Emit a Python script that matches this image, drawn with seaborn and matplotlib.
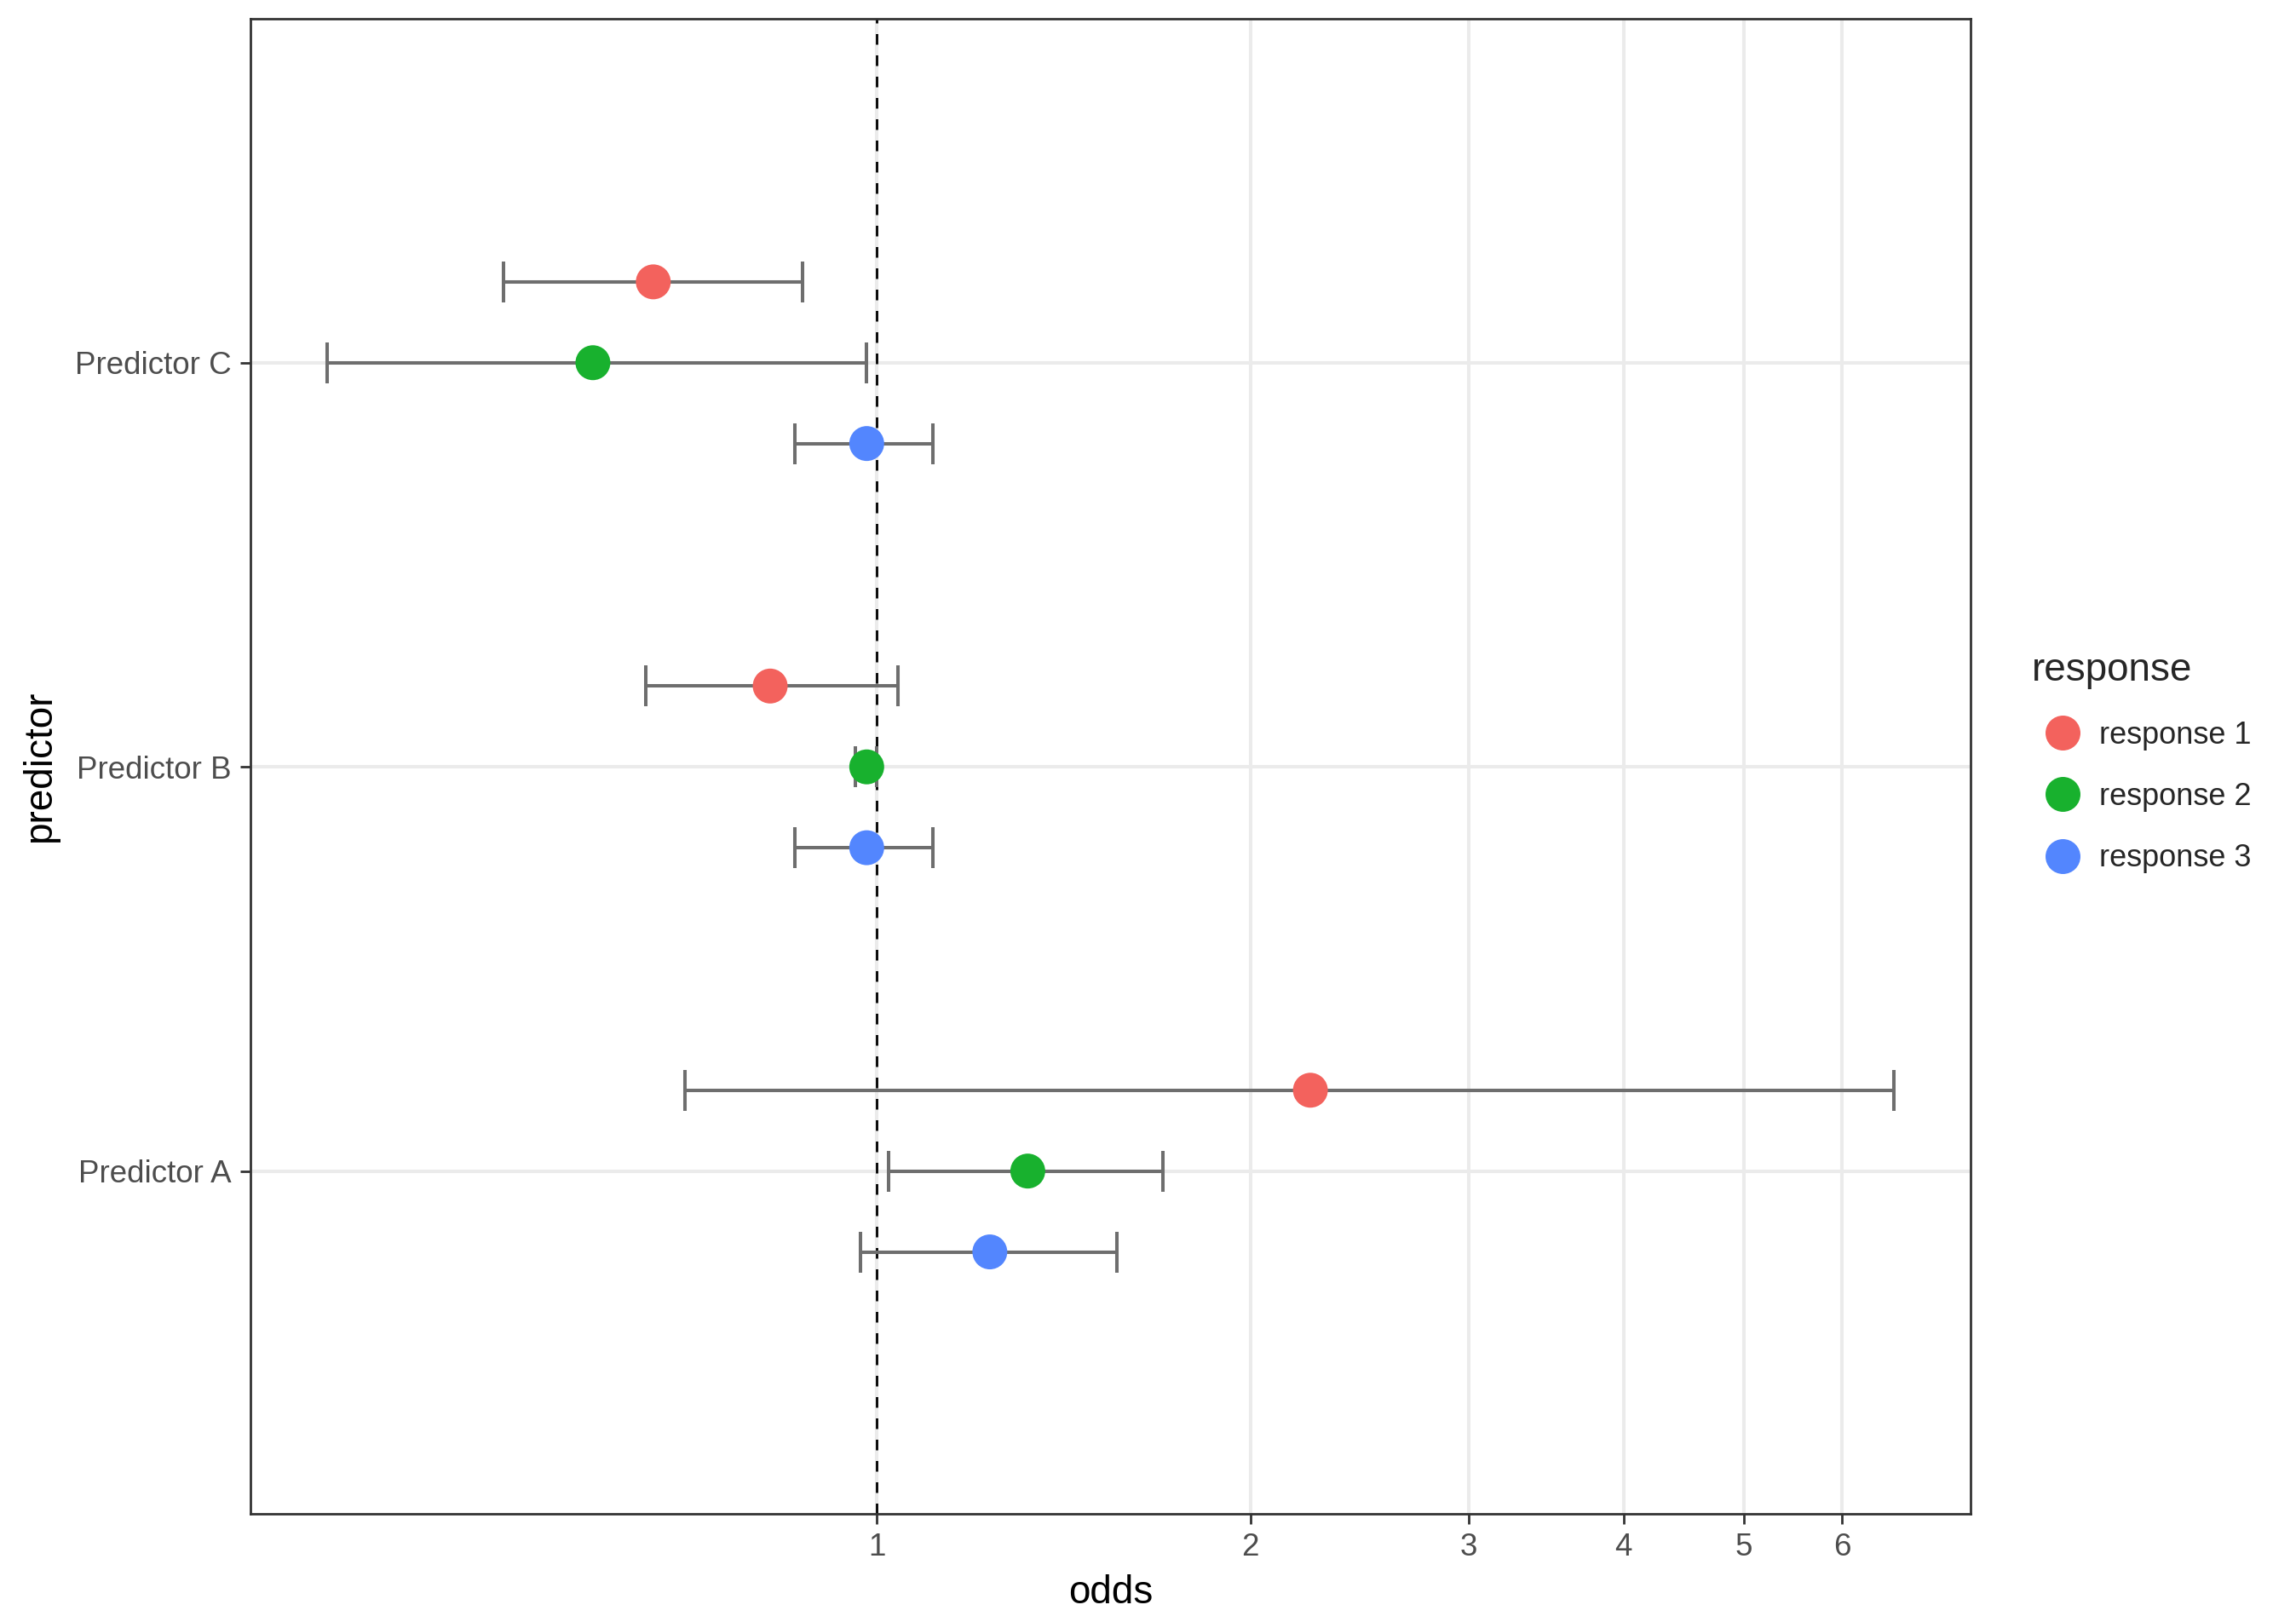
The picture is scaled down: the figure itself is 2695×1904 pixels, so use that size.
import matplotlib
matplotlib.use("Agg")
import matplotlib.pyplot as plt
import matplotlib.ticker as mticker
import numpy as np
import pandas as pd
import seaborn as sns

# data (odds ratio with 95% CI)
predictors = ['Predictor A', 'Predictor B', 'Predictor C']
responses = ['response 1', 'response 2', 'response 3']
colors = ['#F3625D', '#18B12E', '#5386FE']

odds_r1 = [2.236, 0.820, 0.660]
low_r1 = [0.700, 0.651, 0.500]
high_r1 = [6.61, 1.039, 0.871]

odds_r2 = [1.323, 0.981, 0.590]
low_r2 = [1.022, 0.960, 0.360]
high_r2 = [1.700, 1.000, 0.981]

odds_r3 = [1.233, 0.981, 0.981]
low_r3 = [0.970, 0.859, 0.859]
high_r3 = [1.562, 1.109, 1.109]

x_ticks = [1, 2, 3, 4, 5, 6]

# long table, dodge offset per response
rows = []
for r, (o, lo, hi, off) in enumerate([(odds_r1, low_r1, high_r1, 0.2),
                                       (odds_r2, low_r2, high_r2, 0.0),
                                       (odds_r3, low_r3, high_r3, -0.2)]):
    for i, p in enumerate(predictors):
        rows.append({'predictor': p, 'response': responses[r], 'odds': o[i],
                     'low': lo[i], 'high': hi[i], 'ypos': i + off})
df = pd.DataFrame(rows)

sns.set_theme(style='white')
plt.rcParams['font.family'] = ['Liberation Sans', 'DejaVu Sans']

fig = plt.figure(figsize=(26.95, 19.04), dpi=100)
ax = fig.add_axes([0.1091, 0.0667, 0.8583 - 0.1091, 0.98845 - 0.0667])

# grid
for x in x_ticks:
    ax.axvline(x, color='#EBEBEB', lw=2.9, zorder=0)
for i in range(len(predictors)):
    ax.axhline(i, color='#EBEBEB', lw=2.9, zorder=0)

ax.axvline(1, color='black', lw=2.0, ls=(0, (4.5, 4.5)), zorder=1)

ax.errorbar(df['odds'], df['ypos'],
            xerr=[df['odds'] - df['low'], df['high'] - df['odds']],
            fmt='none', ecolor='#6E6E6E', elinewidth=2.9, capsize=17.3,
            capthick=2.9, zorder=2)

sns.scatterplot(data=df, x='odds', y='ypos', hue='response',
                hue_order=responses, palette=colors, s=870,
                edgecolor='none', linewidth=0, ax=ax, zorder=3)

ax.set_xscale('log')
ax.set_xlim(0.3124, 7.62)
ax.set_ylim(-0.848, 2.851)
ax.xaxis.set_major_locator(mticker.FixedLocator(x_ticks))
ax.xaxis.set_major_formatter(mticker.FixedFormatter([str(t) for t in x_ticks]))
ax.xaxis.set_minor_locator(mticker.NullLocator())
ax.set_yticks(range(len(predictors)))
ax.set_yticklabels(predictors)

ax.tick_params(axis='both', which='major', direction='out', length=8.8,
               width=2.0, color='#333333', labelcolor='#4D4D4D',
               labelsize=26.5, pad=7, left=True, bottom=True)
for s in ax.spines.values():
    s.set_color('#333333')
    s.set_linewidth(2.0)

ax.set_xlabel('odds', fontsize=33, color='black', labelpad=10)
ax.set_ylabel('predictor', fontsize=33, color='black', labelpad=14)

leg = ax.legend(title='response', loc='upper left',
                bbox_to_anchor=(0.8727, 0.6155), bbox_transform=fig.transFigure,
                frameon=False, fontsize=26, title_fontsize=33,
                markerscale=1.0, labelspacing=1.03, handletextpad=0.2,
                handlelength=2.0)
leg._legend_box.align = 'left'

fig.savefig('out.png', dpi=100)
